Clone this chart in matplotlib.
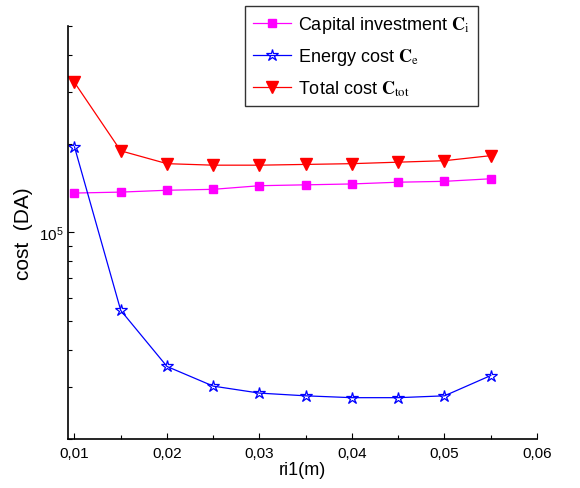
import matplotlib
matplotlib.use("Agg")
import matplotlib.pyplot as plt
from matplotlib.ticker import FixedLocator, FixedFormatter, LogLocator, NullFormatter

plt.rcParams['font.family'] = ['Liberation Sans', 'DejaVu Sans']
plt.rcParams['mathtext.fontset'] = 'stix'

# data
ri1 = [0.010, 0.015, 0.020, 0.025, 0.030, 0.035, 0.040, 0.045, 0.050, 0.055]
capital = [1.36e5, 1.37e5, 1.39e5, 1.40e5, 1.44e5, 1.45e5, 1.46e5, 1.48e5, 1.49e5, 1.52e5]
energy = [1.95e5, 5.45e4, 3.52e4, 3.02e4, 2.86e4, 2.80e4, 2.76e4, 2.76e4, 2.80e4, 3.28e4]
total = [3.22e5, 1.89e5, 1.71e5, 1.69e5, 1.69e5, 1.70e5, 1.71e5, 1.73e5, 1.75e5, 1.82e5]

xticks = [0.01, 0.02, 0.03, 0.04, 0.05, 0.06]
xticklabels = ['0,01', '0,02', '0,03', '0,04', '0,05', '0,06']
xminor = [0.015, 0.025, 0.035, 0.045, 0.055]

labels = [r'Capital investment $\mathbf{C}_{\mathrm{i}}$',
          r'Energy cost $\mathbf{C}_{\mathrm{e}}$',
          r'Total cost $\mathbf{C}_{\mathrm{tot}}$']

fig = plt.figure(figsize=(5.8, 4.89), dpi=100)
ax = fig.add_axes([68/580, 1-440/489, (537-68)/580, (440-27)/489])

l1, = ax.plot(ri1, capital, color='#ff00ff', marker='s', markersize=6, linewidth=0.9,
              markeredgecolor='#ff00ff', markerfacecolor='#ff00ff')
l2, = ax.plot(ri1, energy, color='#0000ff', marker='*', markersize=9, linewidth=0.9,
              markeredgecolor='#0000ff', markerfacecolor='none', markeredgewidth=0.9)
l3, = ax.plot(ri1, total, color='#ff0000', marker='v', markersize=9, linewidth=0.9,
              markeredgecolor='#ff0000', markerfacecolor='#ff0000')

ax.set_yscale('log')
ax.set_ylim(2e4, 5e5)
ax.set_xlim(0.0093, 0.06)

ax.xaxis.set_major_locator(FixedLocator(xticks))
ax.xaxis.set_major_formatter(FixedFormatter(xticklabels))
ax.xaxis.set_minor_locator(FixedLocator(xminor))
ax.yaxis.set_major_locator(LogLocator(base=10, numticks=10))
ax.yaxis.set_minor_locator(LogLocator(base=10, subs=[2, 3, 4, 5, 6, 7, 8, 9], numticks=20))
ax.yaxis.set_minor_formatter(NullFormatter())

ax.tick_params(axis='both', which='major', direction='in', length=4, width=0.8, labelsize=11)
ax.tick_params(axis='both', which='minor', direction='in', length=3, width=0.8)
ax.tick_params(axis='x', pad=5)

for s in ['top', 'right']:
    ax.spines[s].set_visible(False)
for s in ['left', 'bottom']:
    ax.spines[s].set_linewidth(1.2)

ax.set_xlabel('ri1(m)', fontsize=13, labelpad=1)
ax.set_ylabel('cost  (DA)', fontsize=15, labelpad=4)

leg = fig.legend([l1, l2, l3], labels, loc='upper left',
                 bbox_to_anchor=(245/580, 1-7/489), fontsize=13,
                 frameon=True, fancybox=False, edgecolor='black',
                 handlelength=2.1, borderpad=0.45, labelspacing=0.62,
                 handletextpad=0.4, borderaxespad=0)
leg.get_frame().set_linewidth(1.0)

fig.savefig('out.png', dpi=100)
